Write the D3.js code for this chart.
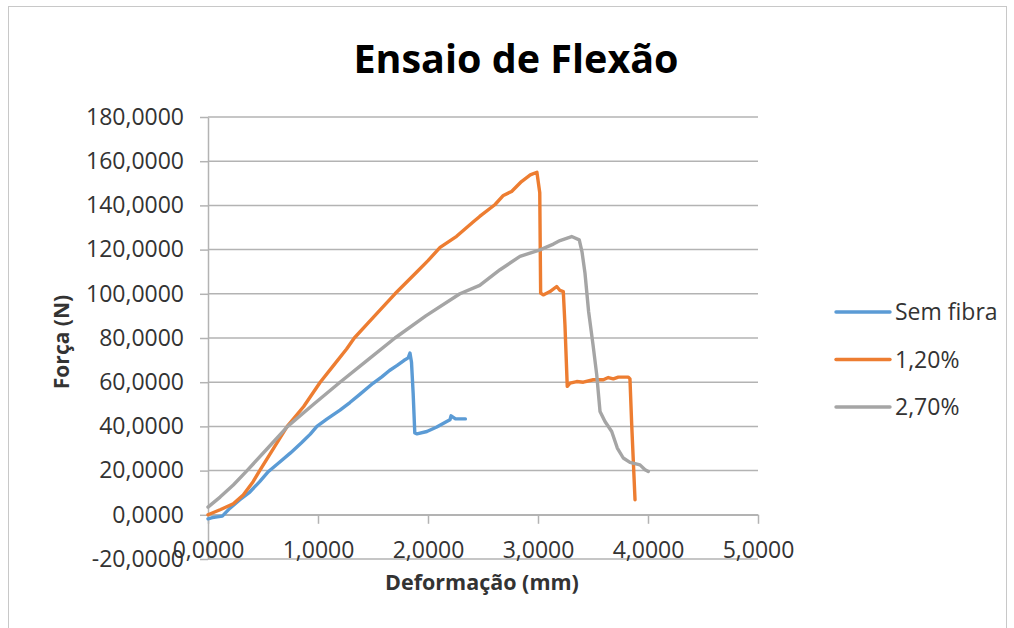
<!DOCTYPE html>
<html>
<head>
<meta charset="utf-8">
<script src="https://cdn.jsdelivr.net/npm/d3@7"></script>
<style>
  body { margin: 0; background: #fff; }
  svg text { font-family: "Open Sans", "DejaVu Sans", sans-serif; }
</style>
</head>
<body>
<svg id="chart" width="1014" height="628"></svg>
<script>
// Flexural test: force (N) against deflection (mm) for three fibre contents
const semFibraX = [0, 0.04, 0.13, 0.2, 0.29, 0.38, 0.47, 0.55, 0.65, 0.75, 0.85, 0.93, 0.99, 1.08, 1.2, 1.29, 1.38, 1.5, 1.58, 1.65, 1.72, 1.78, 1.82, 1.836, 1.85, 1.865, 1.88, 1.9, 1.99, 2.08, 2.17, 2.2, 2.21, 2.25, 2.34];
const semFibraY = [-1.8, -1.3, -0.6, 3.0, 6.8, 10.3, 15.0, 19.6, 23.8, 28.0, 32.6, 36.5, 40.0, 43.3, 47.4, 50.8, 54.5, 59.5, 62.4, 65.3, 67.6, 69.8, 71.0, 73.2, 69.0, 55.0, 37.0, 36.6, 37.7, 39.7, 42.2, 43.0, 44.8, 43.4, 43.4];

const fibra120X = [0, 0.11, 0.23, 0.32, 0.41, 0.47, 0.6, 0.72, 0.87, 1.02, 1.14, 1.26, 1.33, 1.45, 1.58, 1.7, 1.8, 1.9, 2.0, 2.11, 2.26, 2.41, 2.47, 2.61, 2.685, 2.76, 2.85, 2.93, 2.99, 3.016, 3.024, 3.048, 3.109, 3.17, 3.2, 3.23, 3.245, 3.266, 3.291, 3.352, 3.412, 3.503, 3.594, 3.639, 3.685, 3.73, 3.821, 3.836, 3.852, 3.882];
const fibra120Y = [0, 2.3, 5.0, 9.0, 15.0, 20.0, 30.4, 40.0, 49.0, 60.0, 67.5, 75.0, 80.0, 86.5, 93.5, 100.0, 105.0, 110.0, 115.0, 121.0, 126.0, 132.5, 135.0, 140.4, 144.5, 146.3, 150.8, 153.8, 155.0, 145.7, 100.3, 99.5, 101.0, 103.3, 101.5, 101.0, 86.0, 58.1, 59.6, 60.3, 60.0, 61.1, 61.1, 62.1, 61.5, 62.3, 62.3, 61.5, 40.7, 6.8];

const fibra270X = [0, 0.11, 0.23, 0.355, 0.54, 0.724, 0.96, 1.2, 1.45, 1.7, 1.98, 2.29, 2.47, 2.655, 2.836, 3.018, 3.14, 3.2, 3.306, 3.375, 3.4, 3.427, 3.46, 3.5, 3.534, 3.564, 3.609, 3.67, 3.721, 3.775, 3.836, 3.927, 3.973, 4.003];
const fibra270Y = [3.5, 8.0, 13.5, 20.0, 30.0, 40.0, 50.0, 60.0, 70.0, 80.0, 90.0, 100.0, 103.8, 110.9, 116.9, 119.9, 122.5, 124.1, 125.9, 124.4, 119.0, 109.4, 92.0, 77.0, 63.3, 46.7, 42.2, 37.7, 30.2, 25.7, 23.7, 22.6, 20.4, 19.6];

const seriesNames = ["Sem fibra", "1,20%", "2,70%"];
const seriesColors = ["#5B9BD5", "#ED7D31", "#A5A5A5"];

const xTicks = [0, 1, 2, 3, 4, 5];
const yTicks = [-20, 0, 20, 40, 60, 80, 100, 120, 140, 160, 180];

const chartTitle = "Ensaio de Flexão";
const xTitle = "Deformação (mm)";
const yTitle = "Força (N)";

const series = [
  { name: seriesNames[0], color: seriesColors[0], pts: semFibraX.map((x, i) => [x, semFibraY[i]]) },
  { name: seriesNames[1], color: seriesColors[1], pts: fibra120X.map((x, i) => [x, fibra120Y[i]]) },
  { name: seriesNames[2], color: seriesColors[2], pts: fibra270X.map((x, i) => [x, fibra270Y[i]]) }
];

const svg = d3.select("#chart");
const plot = { left: 208, right: 758, top: 117, bottom: 559 };

const x = d3.scaleLinear().domain([0, 5]).range([plot.left, plot.right]);
const y = d3.scaleLinear().domain([-20, 180]).range([plot.bottom, plot.top]);

const ptBR = d3.formatLocale({ decimal: ",", thousands: ".", grouping: [3], currency: ["R$", ""], minus: "-" });
const fmt = ptBR.format(".4f");

const gridColor = "#B3B3B3";
const textColor = "#333333";

// chart frame
svg.append("rect")
  .attr("x", 8.5).attr("y", 6.5).attr("width", 998).attr("height", 640)
  .attr("fill", "none").attr("stroke", "#c8c8c8").attr("stroke-width", 1);

// horizontal gridlines
svg.append("g").selectAll("line").data(yTicks).join("line")
  .attr("x1", plot.left).attr("x2", plot.right)
  .attr("y1", d => y(d)).attr("y2", d => y(d))
  .attr("stroke", gridColor).attr("stroke-width", 1.5);

// y axis
const gy = svg.append("g").attr("transform", `translate(${plot.left},0)`)
  .call(d3.axisLeft(y).tickValues(yTicks).tickFormat(fmt).tickSizeInner(8).tickSizeOuter(0).tickPadding(16));
gy.select(".domain").attr("stroke", gridColor).attr("stroke-width", 1.5);
gy.selectAll(".tick line").attr("stroke", gridColor).attr("stroke-width", 1.5);
gy.selectAll(".tick text").attr("font-size", 23).attr("fill", textColor)
  .attr("font-family", "'Open Sans', sans-serif");

// x axis on the zero line
const gx = svg.append("g").attr("transform", `translate(0,${y(0)})`)
  .call(d3.axisBottom(x).tickValues(xTicks).tickFormat(fmt).tickSizeInner(9).tickSizeOuter(0).tickPadding(18));
gx.select(".domain").attr("stroke", gridColor).attr("stroke-width", 1.5);
gx.selectAll(".tick line").attr("stroke", gridColor).attr("stroke-width", 1.5);
gx.selectAll(".tick text").attr("font-size", 23).attr("fill", textColor)
  .attr("font-family", "'Open Sans', sans-serif");

// series lines
const line = d3.line().x(d => x(d[0])).y(d => y(d[1]));
svg.append("g").selectAll("path").data(series).join("path")
  .attr("d", d => line(d.pts))
  .attr("fill", "none")
  .attr("stroke", d => d.color)
  .attr("stroke-width", 3.4)
  .attr("stroke-linejoin", "round")
  .attr("stroke-linecap", "round");

// title
svg.append("text").text(chartTitle)
  .attr("x", 516).attr("y", 73).attr("text-anchor", "middle")
  .attr("font-size", 39.5).attr("font-weight", 700).attr("fill", "#000");

// axis titles
svg.append("text").text(xTitle)
  .attr("x", 482).attr("y", 590).attr("text-anchor", "middle")
  .attr("font-size", 21.5).attr("font-weight", 700).attr("fill", textColor);

svg.append("text").text(yTitle)
  .attr("transform", "translate(69,342) rotate(-90)").attr("text-anchor", "middle")
  .attr("font-size", 21).attr("font-weight", 700).attr("fill", textColor);

// legend
const legend = svg.append("g").selectAll("g").data(series).join("g")
  .attr("transform", (d, i) => `translate(836,${312 + i * 47.5})`);
legend.append("line").attr("x1", 0).attr("x2", 54).attr("y1", 0).attr("y2", 0)
  .attr("stroke", d => d.color).attr("stroke-width", 3.4).attr("stroke-linecap", "round");
legend.append("text").text(d => d.name)
  .attr("x", 59).attr("y", 0).attr("dy", "0.35em")
  .attr("font-size", 23).attr("fill", textColor);
</script>
</body>
</html>
